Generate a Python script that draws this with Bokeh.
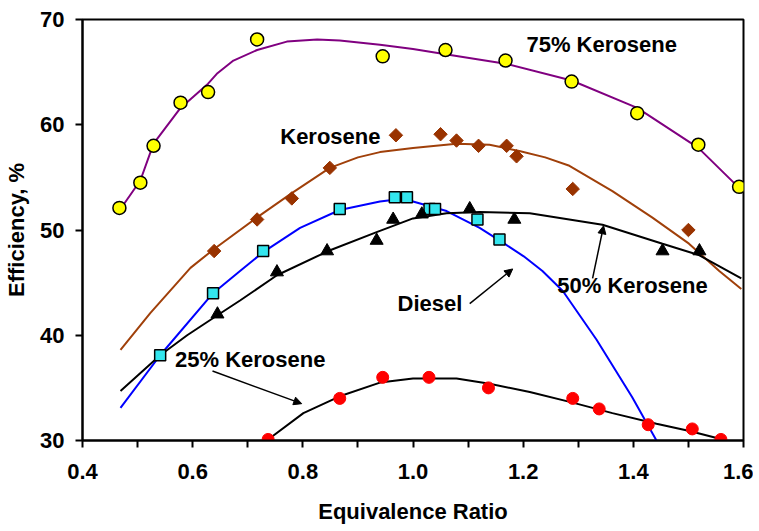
import math
from bokeh.plotting import figure
from bokeh.models import FixedTicker, Range1d, Arrow, NormalHead, ColumnDataSource
from bokeh.core.properties import value
from bokeh.embed import file_html
from bokeh.resources import INLINE

# ---------------- data ----------------
x_ticks = [0.4, 0.6, 0.8, 1.0, 1.2, 1.4, 1.6]
x_minor = [0.5, 0.7, 0.9, 1.1, 1.3, 1.5]
y_ticks = [30, 40, 50, 60, 70]

# 75% Kerosene
k75_x = [0.467, 0.505, 0.529, 0.578, 0.628, 0.717, 0.945, 1.059, 1.168, 1.288, 1.407, 1.518, 1.592]
k75_y = [52.1, 54.5, 58.0, 62.1, 63.1, 68.1, 66.5, 67.1, 66.1, 64.1, 61.1, 58.1, 54.1]
k75_fit_x = [0.469, 0.505, 0.529, 0.578, 0.628, 0.645, 0.674, 0.717, 0.771, 0.826, 0.867, 0.940,
             1.0, 1.059, 1.168, 1.288, 1.407, 1.518, 1.592]
k75_fit_y = [52.0, 54.7, 58.2, 61.6, 63.9, 64.9, 66.1, 67.1, 67.9, 68.1, 68.0, 67.6,
             67.2, 66.7, 65.8, 64.2, 61.6, 57.8, 54.0]

# Kerosene
ker_x = [0.639, 0.717, 0.780, 0.849, 0.969, 1.050, 1.079, 1.119, 1.170, 1.188, 1.290, 1.500]
ker_y = [48.0, 51.0, 53.0, 55.9, 59.0, 59.1, 58.5, 58.0, 58.0, 57.0, 53.9, 50.0]
ker_fit_x = [0.469, 0.523, 0.596, 0.639, 0.717, 0.780, 0.849, 0.900, 0.940, 1.0, 1.079, 1.139, 1.193,
             1.240, 1.284, 1.362, 1.434, 1.501, 1.556, 1.596]
ker_fit_y = [38.6, 42.1, 46.4, 48.2, 51.2, 53.5, 55.9, 56.9, 57.4, 57.8, 58.2, 58.1, 57.5,
             56.9, 56.1, 53.7, 51.2, 48.7, 46.1, 44.4]

# Diesel
dsl_x = [0.541, 0.637, 0.728, 0.867, 0.967, 0.989, 1.030, 1.040, 1.117, 1.157]
dsl_y = [38.1, 44.0, 48.0, 52.0, 53.1, 53.1, 52.0, 52.0, 51.0, 49.1]
dsl_fit_x = [0.469, 0.541, 0.637, 0.686, 0.728, 0.795, 0.867, 0.940, 0.970, 1.0, 1.061, 1.121,
             1.166, 1.201, 1.235, 1.272, 1.333, 1.398, 1.442]
dsl_fit_y = [33.1, 38.1, 44.0, 46.1, 47.9, 50.2, 51.9, 52.7, 52.9, 52.7, 51.8, 50.2,
             48.7, 47.5, 46.1, 44.2, 39.6, 34.1, 30.0]

# 50% Kerosene
k50_x = [0.645, 0.753, 0.844, 0.934, 0.964, 1.016, 1.103, 1.184, 1.453, 1.520]
k50_y = [42.0, 46.0, 48.0, 49.0, 51.0, 51.5, 52.0, 51.0, 48.0, 48.0]
k50_fit_x = [0.469, 0.541, 0.590, 0.645, 0.686, 0.753, 0.846, 0.934, 1.0, 1.061, 1.121, 1.212,
             1.344, 1.453, 1.520, 1.596]
k50_fit_y = [34.7, 38.1, 40.0, 41.9, 43.3, 45.7, 48.0, 49.8, 51.1, 51.6, 51.7, 51.6,
             50.5, 48.7, 47.6, 45.4]

# 25% Kerosene
k25_x = [0.737, 0.867, 0.945, 1.029, 1.137, 1.290, 1.338, 1.427, 1.507, 1.559]
k25_y = [30.1, 34.0, 36.0, 36.0, 35.0, 34.0, 33.0, 31.5, 31.1, 30.1]
k25_fit_x = [0.737, 0.801, 0.867, 0.940, 1.0, 1.079, 1.139, 1.212, 1.290, 1.362, 1.442, 1.502, 1.562]
k25_fit_y = [30.1, 32.6, 34.2, 35.5, 35.9, 35.9, 35.4, 34.6, 33.6, 32.6, 31.6, 30.9, 30.1]

# annotations
label_text = ["75% Kerosene", "Kerosene", "25% Kerosene", "Diesel", "50% Kerosene"]
label_x = [1.206, 0.759, 0.568, 0.972, 1.262]
label_y = [67.6, 58.9, 37.7, 43.0, 44.7]

arrow_x0 = [1.103, 1.326, 0.636]
arrow_y0 = [43.0, 45.4, 36.6]
arrow_x1 = [1.181, 1.346, 0.798]
arrow_y1 = [46.3, 50.4, 33.5]

FONT = "Liberation Sans"

p = figure(width=753, height=531, x_range=Range1d(0.4, 1.6), y_range=Range1d(30, 70),
           output_backend="svg", toolbar_location=None,
           min_border_left=82, min_border_right=10, min_border_top=19, min_border_bottom=91)
p.outline_line_color = "black"
p.outline_line_width = 2
p.xgrid.visible = False
p.ygrid.visible = False
p.background_fill_color = "white"
p.border_fill_color = "white"

p.xaxis.ticker = FixedTicker(ticks=x_ticks, minor_ticks=x_minor)
p.yaxis.ticker = FixedTicker(ticks=y_ticks, minor_ticks=[])
for ax in (p.xaxis, p.yaxis):
    ax.axis_line_width = 2
    ax.axis_line_color = "black"
    ax.major_tick_line_width = 2
    ax.minor_tick_line_width = 2
    ax.major_tick_in = 0
    ax.major_tick_out = 7
    ax.minor_tick_in = 0
    ax.minor_tick_out = 7
    ax.major_label_text_font = FONT
    ax.major_label_text_font_style = "bold"
    ax.major_label_text_font_size = "22px"
    ax.major_label_text_color = "black"
    ax.axis_label_text_font = FONT
    ax.axis_label_text_font_style = "bold"
    ax.axis_label_text_font_size = "22px"
    ax.axis_label_text_color = "black"
p.yaxis.minor_tick_out = 0
p.xaxis.major_label_overrides = {0.4: "0.4", 0.6: "0.6", 0.8: "0.8", 1.0: "1.0", 1.2: "1.2", 1.4: "1.4", 1.6: "1.6"}
p.xaxis.axis_label = "Equivalence Ratio"
p.yaxis.axis_label = "Efficiency, %"
p.xaxis.major_label_standoff = 16
p.xaxis.axis_label_standoff = 17
p.yaxis.major_label_standoff = 11
p.yaxis.axis_label_standoff = 8

# fitted lines
p.line(k75_fit_x, k75_fit_y, line_color="#800080", line_width=2)
p.line(ker_fit_x, ker_fit_y, line_color="#A0400A", line_width=2)
p.line(dsl_fit_x, dsl_fit_y, line_color="#0000FF", line_width=2)
p.line(k50_fit_x, k50_fit_y, line_color="black", line_width=2)
p.line(k25_fit_x, k25_fit_y, line_color="black", line_width=2)

# markers
p.scatter(k75_x, k75_y, marker="circle", size=13, fill_color="#FFFF00", line_color="black", line_width=1.5)
p.scatter(ker_x, ker_y, marker="square", angle=math.pi / 4, size=9.5, fill_color="#993300", line_color="#993300")
p.scatter(dsl_x, dsl_y, marker="square", size=11, fill_color="#33E6EE", line_color="black", line_width=1.5)
p.scatter(k50_x, k50_y, marker="triangle", size=13, fill_color="black", line_color="black")
p.scatter(k25_x, k25_y, marker="circle", size=12, fill_color="#FF0000", line_color="#FF0000")

# arrows
for xs, ys, xe, ye in zip(arrow_x0, arrow_y0, arrow_x1, arrow_y1):
    p.add_layout(Arrow(end=NormalHead(size=8, fill_color="black", line_color="black"),
                       x_start=xs, y_start=ys, x_end=xe, y_end=ye,
                       line_color="black", line_width=1.5))

src = ColumnDataSource(dict(x=label_x, y=label_y, t=label_text))
p.text(x="x", y="y", text="t", source=src, text_font=value(FONT), text_font_style="bold",
       text_font_size="22px", text_color="black", text_align="left", text_baseline="middle")

open("out.html", "w").write(file_html(p, INLINE))
